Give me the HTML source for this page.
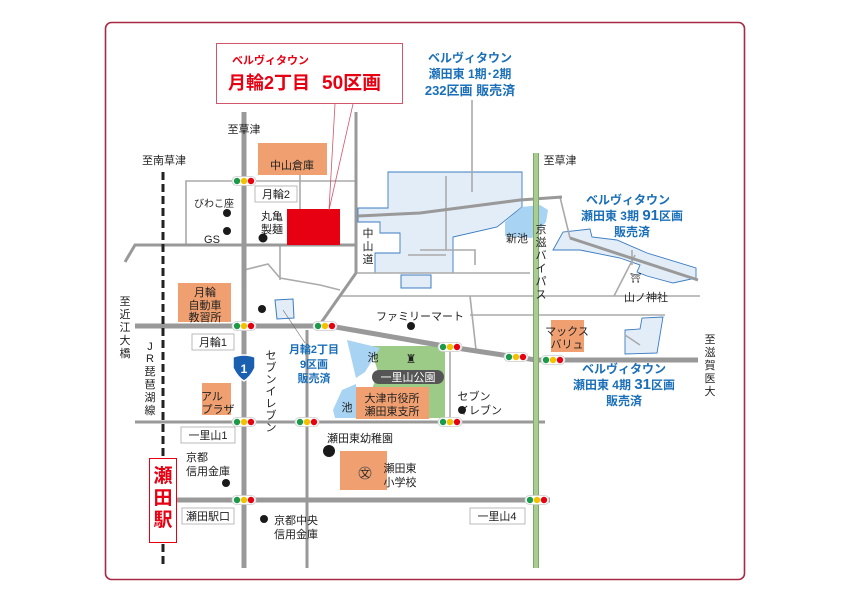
<!DOCTYPE html>
<html><head><meta charset="utf-8"><style>
html,body{margin:0;padding:0;background:#fff}
svg{display:block}
text{font-family:"Liberation Sans","Noto Sans CJK JP",sans-serif;fill:#222}
.b{fill:#1a6fb8;font-weight:bold}
.r{fill:#e60012;font-weight:bold}
</style></head><body>
<svg width="842" height="595" viewBox="0 0 842 595" xmlns="http://www.w3.org/2000/svg">
<defs>
<g id="tl"><rect x="-12" y="-4.5" width="24" height="9" rx="4.5" fill="#fff" stroke="#ccc" stroke-width="0.8"/><circle cx="-7" cy="0" r="3.2" fill="#1a9a4a"/><circle cx="0" cy="0" r="3.2" fill="#f2c200"/><circle cx="7" cy="0" r="3.2" fill="#e60012"/></g>
</defs>
<rect x="105.5" y="22.5" width="639" height="557" rx="6" fill="#fff" stroke="#a52a45" stroke-width="1.6"/>

<polygon points="388,172 522,172 522,207 497,227 453,237 453,273 375,273 375,253 400,253 400,233 380,233 380,222 358,222 358,208 388,208" fill="#e3edf8" stroke="#3b7cc0" stroke-width="0.9"/>
<rect x="401" y="275" width="30" height="13" fill="#e3edf8" stroke="#3b7cc0" stroke-width="1"/>
<polygon points="505,222 522,207 540,205 548,210 546,222 532,238 505,236" fill="#a9d3f2"/>
<polygon points="553,250 563,232 590,229 592,237 617,240 647,253 696,268 696,278 673,283 647,276 637,272 640,265 620,258 580,250" fill="#e3edf8" stroke="#3b7cc0" stroke-width="0.9"/>
<polygon points="625,330 640,329 642,318 663,317 657,353 625,354" fill="#e3edf8" stroke="#3b7cc0" stroke-width="0.9"/>
<polygon points="275,300 293,299 294,318 277,319" fill="#e3edf8" stroke="#3b7cc0" stroke-width="1"/>

<polygon points="370,346 445,346 445,418 368,418 370,395 378,372" fill="#9ccb88"/>
<polygon points="347,340 380,348 365,372 356,378" fill="#a9d3f2"/>
<polygon points="333,410 342,390 356,384 358,418 335,418" fill="#a9d3f2"/>

<g stroke="#aaa" stroke-width="1.6" fill="none">
<polyline points="186,245 186,181 356,181"/>
<line x1="300" y1="175" x2="300" y2="245"/>
<line x1="280" y1="245" x2="280" y2="280"/>
<polyline points="244,270 268,264 280,278 320,285 340,290"/>
<line x1="446" y1="176" x2="446" y2="250"/>
<polyline points="420,250 475,250 475,265"/>
<polyline points="408,255 446,255"/>
<line x1="356" y1="273" x2="530" y2="273"/>
<line x1="340" y1="296" x2="700" y2="296"/>
<line x1="470" y1="315" x2="665" y2="315"/>
<line x1="470" y1="296" x2="476" y2="350"/>
<line x1="450" y1="347" x2="450" y2="422"/>
<polyline points="560,197 570,238"/>
<line x1="614" y1="296" x2="635" y2="255"/>
<line x1="625" y1="335" x2="640" y2="345"/>
<line x1="472" y1="100" x2="472" y2="192"/>
<line x1="632" y1="250" x2="632" y2="265"/>
</g>

<g stroke="#999" stroke-width="3" fill="none">
<line x1="356" y1="112" x2="356" y2="273"/>
<polyline points="356,273 316,330"/>
<polyline points="358,216 420,213 520,200 562,197"/>
<polyline points="570,238 698,280"/>
<polyline points="125,262 135,245 356,245"/>
<line x1="307" y1="330" x2="307" y2="568"/>
<line x1="135" y1="422" x2="545" y2="422"/>
</g>
<g stroke="#999" stroke-width="5" fill="none">
<line x1="244" y1="112" x2="244" y2="568"/>
<polyline points="135,326 330,326 450,347 536,360 698,360"/>
<line x1="175" y1="500" x2="550" y2="500"/>
</g>
<line x1="536" y1="153" x2="536" y2="568" stroke="#7ea86a" stroke-width="6"/>
<line x1="536" y1="153" x2="536" y2="568" stroke="#a9cc92" stroke-width="4"/>
<line x1="163" y1="172" x2="163" y2="568" stroke="#222" stroke-width="3" stroke-dasharray="8,4"/>

<g fill="#f0a070">
<rect x="258" y="143" width="69" height="32"/>
<rect x="178" y="283" width="53" height="39"/>
<rect x="202" y="383" width="29" height="32"/>
<rect x="551" y="320" width="33" height="32"/>
<rect x="340" y="451" width="47" height="39"/>
<rect x="356" y="387" width="73" height="32"/>
</g>
<rect x="287" y="209" width="53" height="36" fill="#e60012"/>

<rect x="216.5" y="43.5" width="186" height="60" fill="#fff" stroke="#d2556a" stroke-width="1"/>
<polyline points="335,104 329,210 353,104" fill="none" stroke="#d2556a" stroke-width="0.8"/>
<text x="232" y="64" class="r" font-size="11">ベルヴィタウン</text>
<text x="228" y="89" class="r" font-size="18">月輪2丁目</text>
<text x="322" y="89" class="r" font-size="19">50区画</text>

<text x="470" y="62" class="b" font-size="12" text-anchor="middle">ベルヴィタウン</text>
<text x="470" y="78" class="b" font-size="12" text-anchor="middle">瀬田東 1期･2期</text>
<text x="470" y="95" class="b" font-size="13" text-anchor="middle">232区画 販売済</text>

<text x="628" y="204" class="b" font-size="12" text-anchor="middle">ベルヴィタウン</text>
<text x="632" y="220" class="b" font-size="12" text-anchor="middle">瀬田東 3期 <tspan font-size="15">91</tspan>区画</text>
<text x="632" y="236" class="b" font-size="12" text-anchor="middle">販売済</text>

<text x="624" y="373" class="b" font-size="12" text-anchor="middle">ベルヴィタウン</text>
<text x="624" y="389" class="b" font-size="12" text-anchor="middle">瀬田東 4期 <tspan font-size="15">31</tspan>区画</text>
<text x="624" y="405" class="b" font-size="12" text-anchor="middle">販売済</text>

<text x="314" y="353" class="b" font-size="11" text-anchor="middle">月輪2丁目</text>
<text x="314" y="368" class="b" font-size="11" text-anchor="middle">9区画</text>
<text x="314" y="382" class="b" font-size="11" text-anchor="middle">販売済</text>
<line x1="283" y1="310" x2="305" y2="343" stroke="#666" stroke-width="0.6"/>

<g font-size="11">
<text x="244" y="133" text-anchor="middle">至草津</text>
<text x="164" y="164" text-anchor="middle">至南草津</text>
<text x="560" y="164" text-anchor="middle">至草津</text>
<text x="292" y="169" text-anchor="middle">中山倉庫</text>
<text x="214" y="207" text-anchor="middle" font-size="10">びわこ座</text>
<text x="212" y="243" text-anchor="middle">GS</text>
<text x="272" y="220" text-anchor="middle">丸亀</text>
<text x="272" y="233" text-anchor="middle">製麺</text>
<text x="517" y="242" text-anchor="middle">新池</text>
<text x="646" y="301" text-anchor="middle">山ノ神社</text>
<text x="630" y="281" font-size="9">⛩</text>
<text x="420" y="320" text-anchor="middle">ファミリーマート</text>
<text x="567" y="335" text-anchor="middle">マックス</text>
<text x="567" y="348" text-anchor="middle">バリュ</text>
<text x="205" y="296" text-anchor="middle">月輪</text>
<text x="205" y="309" text-anchor="middle">自動車</text>
<text x="205" y="321" text-anchor="middle">教習所</text>
<text x="212" y="400" text-anchor="middle">アル</text>
<text x="218" y="413" text-anchor="middle">プラザ</text>
<text x="373" y="361" text-anchor="middle">池</text>
<text x="347" y="411" text-anchor="middle">池</text>
<text x="392" y="402" text-anchor="middle">大津市役所</text>
<text x="392" y="415" text-anchor="middle">瀬田東支所</text>
<text x="474" y="400" text-anchor="middle">セブン</text>
<text x="480" y="414" text-anchor="middle">イレブン</text>
<text x="360" y="442" text-anchor="middle">瀬田東幼稚園</text>
<text x="400" y="472" text-anchor="middle">瀬田東</text>
<text x="400" y="486" text-anchor="middle">小学校</text>
<text x="186" y="461">京都</text>
<text x="186" y="475">信用金庫</text>
<text x="274" y="524">京都中央</text>
<text x="274" y="538">信用金庫</text>
</g>
<circle cx="365" cy="473" r="6" fill="none" stroke="#555" stroke-width="0.8"/>
<text x="365" y="477" font-size="10" text-anchor="middle">文</text>

<g font-size="11" text-anchor="middle">
<text x="368" y="237">中</text><text x="368" y="250">山</text><text x="368" y="263">道</text>
<text x="541" y="233">京</text><text x="541" y="246">滋</text><text x="541" y="259">バ</text><text x="541" y="272">イ</text><text x="541" y="285">パ</text><text x="541" y="298">ス</text>
<text x="125" y="305">至</text><text x="125" y="318">近</text><text x="125" y="331">江</text><text x="125" y="344">大</text><text x="125" y="357">橋</text>
<text x="150" y="350">J</text><text x="150" y="362">R</text><text x="150" y="375">琵</text><text x="150" y="388">琶</text><text x="150" y="401">湖</text><text x="150" y="414">線</text>
<text x="271" y="359">セ</text><text x="271" y="371">ブ</text><text x="271" y="383">ン</text><text x="271" y="395">イ</text><text x="271" y="407">レ</text><text x="271" y="419">ブ</text><text x="271" y="431">ン</text>
<text x="710" y="343">至</text><text x="710" y="356">滋</text><text x="710" y="369">賀</text><text x="710" y="382">医</text><text x="710" y="395">大</text>
</g>

<g fill="#1a1a1a">
<circle cx="227" cy="213" r="4"/><circle cx="227" cy="231" r="4"/><circle cx="263" cy="238" r="4.5"/>
<circle cx="262" cy="309" r="4"/><circle cx="411" cy="326" r="4"/><circle cx="462" cy="410" r="4"/>
<circle cx="329" cy="451" r="6"/><circle cx="226" cy="483" r="4"/><circle cx="264" cy="519" r="4"/>
</g>

<rect x="372" y="370" width="72" height="14" rx="7" fill="#555"/>
<text x="408" y="381" font-size="11" text-anchor="middle" style="fill:#fff">一里山公園</text>
<text x="411" y="363" font-size="12" text-anchor="middle">♜</text>

<g fill="#fff" stroke="#aaa" stroke-width="0.8">
<rect x="255" y="186" width="42" height="16"/>
<rect x="192" y="334" width="42" height="16"/>
<rect x="181" y="427" width="54" height="16"/>
<rect x="182" y="508" width="52" height="16"/>
<rect x="470" y="508" width="55" height="16"/>
</g>
<g font-size="11">
<text x="276" y="198" text-anchor="middle">月輪2</text>
<text x="213" y="346" text-anchor="middle">月輪1</text>
<text x="208" y="439" text-anchor="middle">一里山1</text>
<text x="208" y="520" text-anchor="middle">瀬田駅口</text>
<text x="497" y="520" text-anchor="middle">一里山4</text>
</g>

<path d="M233,357 Q244,353 255,357 L255,368 Q250,378 244,381 Q238,378 233,368 Z" fill="#1a5fb0" stroke="#fff" stroke-width="1.5"/>
<text x="244" y="373" font-size="12" font-weight="bold" text-anchor="middle" style="fill:#fff">1</text>

<rect x="149.5" y="458.5" width="27" height="84" fill="#fff" stroke="#e60012" stroke-width="1"/>
<text x="163" y="482" class="r" font-size="19" text-anchor="middle">瀬</text>
<text x="163" y="504" class="r" font-size="19" text-anchor="middle">田</text>
<text x="163" y="526" class="r" font-size="19" text-anchor="middle">駅</text>

<use href="#tl" x="244" y="181"/><use href="#tl" x="244" y="326"/><use href="#tl" x="325" y="326"/>
<use href="#tl" x="450" y="347"/><use href="#tl" x="516" y="357"/><use href="#tl" x="553" y="360"/>
<use href="#tl" x="244" y="422"/><use href="#tl" x="307" y="422"/><use href="#tl" x="450" y="422"/>
<use href="#tl" x="244" y="500"/><use href="#tl" x="537" y="500"/>
</svg>
</body></html>
